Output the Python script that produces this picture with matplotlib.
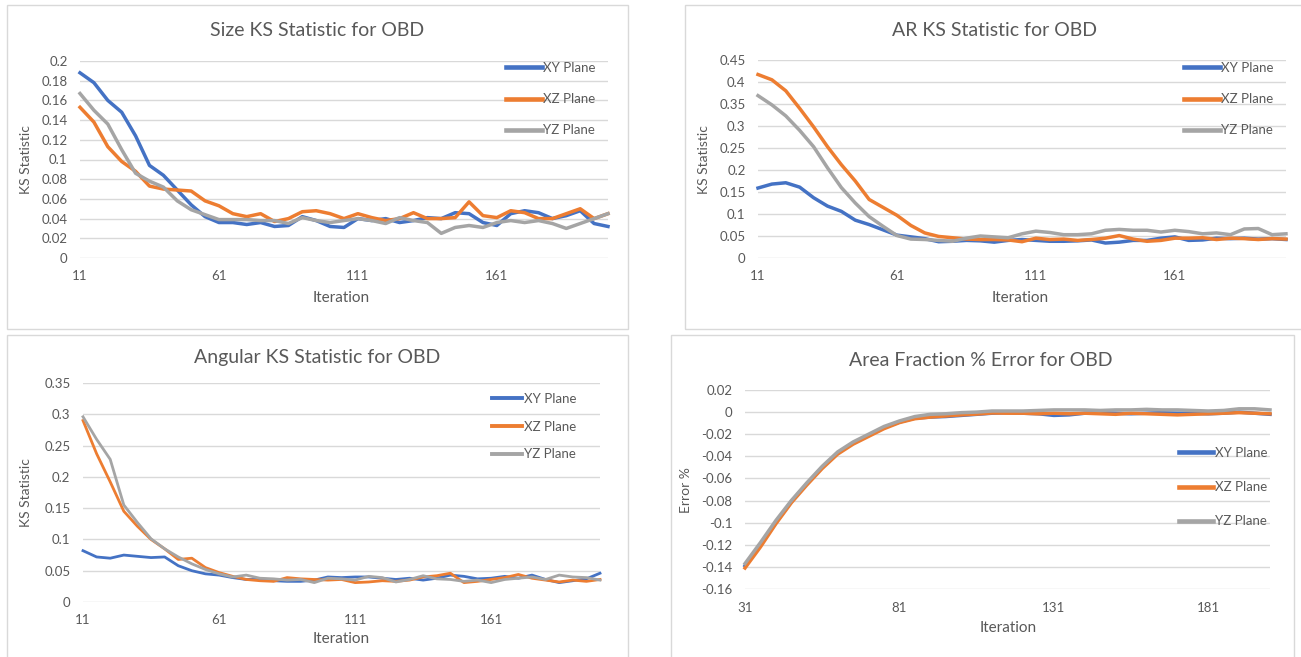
import matplotlib
matplotlib.use("Agg")
import matplotlib.pyplot as plt
from matplotlib.patches import Rectangle
from matplotlib.lines import Line2D

plt.rcParams['font.family'] = ['Lato', 'DejaVu Sans']

W, H = 1301, 657

# ---------------- data ----------------
iter_ks = list(range(11, 202, 5))      # 11 .. 201
iter_area = list(range(31, 202, 5))    # 31 .. 201
series_names = ["XY Plane", "XZ Plane", "YZ Plane"]
colors = ["#4472C4", "#ED7D31", "#A5A5A5"]

size_xy = [0.188, 0.178, 0.160, 0.148, 0.124, 0.094, 0.084, 0.069, 0.054, 0.042,
           0.036, 0.036, 0.034, 0.036, 0.032, 0.033, 0.042, 0.038, 0.032, 0.031,
           0.040, 0.038, 0.040, 0.036, 0.038, 0.041, 0.040, 0.046, 0.045, 0.036,
           0.033, 0.045, 0.048, 0.046, 0.040, 0.043, 0.048, 0.035, 0.032]
size_xz = [0.153, 0.138, 0.113, 0.098, 0.088, 0.073, 0.070, 0.069, 0.068, 0.058,
           0.053, 0.045, 0.042, 0.045, 0.037, 0.040, 0.047, 0.048, 0.045, 0.040,
           0.045, 0.041, 0.038, 0.040, 0.046, 0.040, 0.040, 0.041, 0.057, 0.043,
           0.041, 0.048, 0.046, 0.040, 0.040, 0.045, 0.050, 0.040, 0.045]
size_yz = [0.167, 0.150, 0.136, 0.110, 0.086, 0.078, 0.072, 0.058, 0.049, 0.044,
           0.039, 0.039, 0.039, 0.038, 0.038, 0.035, 0.041, 0.038, 0.036, 0.038,
           0.040, 0.038, 0.035, 0.041, 0.038, 0.036, 0.025, 0.031, 0.033, 0.031,
           0.036, 0.038, 0.036, 0.038, 0.035, 0.030, 0.035, 0.040, 0.045]

ar_xy = [0.159, 0.168, 0.171, 0.161, 0.137, 0.118, 0.106, 0.086, 0.076, 0.064,
         0.052, 0.048, 0.044, 0.037, 0.038, 0.040, 0.039, 0.036, 0.040, 0.042,
         0.040, 0.038, 0.038, 0.039, 0.041, 0.034, 0.036, 0.040, 0.040, 0.045,
         0.048, 0.040, 0.041, 0.045, 0.044, 0.045, 0.043, 0.044, 0.042]
ar_xz = [0.417, 0.405, 0.380, 0.340, 0.298, 0.253, 0.212, 0.175, 0.133, 0.115,
         0.097, 0.074, 0.057, 0.049, 0.046, 0.043, 0.042, 0.042, 0.041, 0.037,
         0.045, 0.042, 0.043, 0.040, 0.042, 0.045, 0.051, 0.043, 0.038, 0.040,
         0.045, 0.045, 0.046, 0.042, 0.045, 0.044, 0.042, 0.044, 0.043]
ar_yz = [0.369, 0.348, 0.323, 0.290, 0.253, 0.205, 0.160, 0.125, 0.094, 0.072,
         0.051, 0.043, 0.042, 0.040, 0.038, 0.045, 0.050, 0.048, 0.046, 0.055,
         0.061, 0.058, 0.053, 0.053, 0.055, 0.063, 0.065, 0.063, 0.063, 0.059,
         0.063, 0.060, 0.055, 0.057, 0.053, 0.066, 0.067, 0.053, 0.055]

ang_xy = [0.082, 0.072, 0.070, 0.075, 0.073, 0.071, 0.072, 0.058, 0.050, 0.045,
          0.043, 0.039, 0.036, 0.036, 0.034, 0.033, 0.033, 0.035, 0.040, 0.039,
          0.040, 0.040, 0.038, 0.036, 0.038, 0.035, 0.038, 0.043, 0.041, 0.037,
          0.038, 0.041, 0.038, 0.043, 0.036, 0.031, 0.034, 0.037, 0.046]
ang_xz = [0.290, 0.237, 0.192, 0.145, 0.121, 0.100, 0.085, 0.068, 0.070, 0.055,
          0.047, 0.041, 0.036, 0.034, 0.033, 0.039, 0.037, 0.036, 0.035, 0.036,
          0.031, 0.032, 0.034, 0.033, 0.035, 0.040, 0.042, 0.046, 0.031, 0.033,
          0.036, 0.039, 0.044, 0.038, 0.035, 0.032, 0.035, 0.033, 0.036]
ang_yz = [0.296, 0.260, 0.228, 0.155, 0.127, 0.101, 0.085, 0.072, 0.061, 0.052,
          0.045, 0.040, 0.043, 0.038, 0.037, 0.035, 0.036, 0.031, 0.038, 0.037,
          0.035, 0.041, 0.039, 0.032, 0.036, 0.042, 0.037, 0.036, 0.033, 0.035,
          0.031, 0.036, 0.038, 0.040, 0.036, 0.043, 0.040, 0.039, 0.035]

area_xy = [-0.139, -0.120, -0.100, -0.081, -0.065, -0.050, -0.037, -0.028, -0.021,
           -0.014, -0.009, -0.0055, -0.0045, -0.004, -0.003, -0.002, -0.001,
           -0.0005, -0.001, -0.0015, -0.003, -0.0025, -0.001, -0.0005, -0.001,
           -0.0015, -0.001, -0.0005, -0.001, -0.001, -0.0015, -0.001, 0.0, -0.001, -0.002]
area_xz = [-0.141, -0.122, -0.101, -0.082, -0.066, -0.051, -0.038, -0.029, -0.022,
           -0.015, -0.0095, -0.006, -0.0045, -0.0035, -0.0025, -0.0018, -0.0008,
           -0.001, -0.001, -0.0015, -0.001, -0.0015, -0.001, -0.0015, -0.002,
           -0.001, -0.0015, -0.002, -0.0025, -0.002, -0.0015, -0.001, -0.0005, -0.001, -0.0015]
area_yz = [-0.137, -0.118, -0.098, -0.080, -0.064, -0.049, -0.036, -0.027, -0.020,
           -0.013, -0.008, -0.004, -0.002, -0.0015, -0.0005, 0.0, 0.001,
           0.001, 0.001, 0.0015, 0.002, 0.002, 0.002, 0.0015, 0.002,
           0.002, 0.0025, 0.002, 0.002, 0.0015, 0.001, 0.0015, 0.003, 0.003, 0.002]

ks_xticks = [11, 61, 111, 161]
area_xticks = [31, 81, 131, 181]
size_yticks = [0, 0.02, 0.04, 0.06, 0.08, 0.1, 0.12, 0.14, 0.16, 0.18, 0.2]
ar_yticks = [0, 0.05, 0.1, 0.15, 0.2, 0.25, 0.3, 0.35, 0.4, 0.45]
ang_yticks = [0, 0.05, 0.1, 0.15, 0.2, 0.25, 0.3, 0.35]
area_yticks = [-0.16, -0.14, -0.12, -0.1, -0.08, -0.06, -0.04, -0.02, 0, 0.02]

# ---------------- drawing ----------------
TXT = "#595959"
GRID = "#d9d9d9"

fig = plt.figure(figsize=(W / 100, H / 100), dpi=100)


def fx(px):
    return px / W


def fy(py):
    return 1 - py / H


# panel frames (pixel boxes)
for (x0, y0, x1, y1) in [(7, 5, 628, 329), (685, 5, 1305, 329),
                         (7, 335, 628, 660), (671, 335, 1294, 660)]:
    fig.add_artist(Rectangle((fx(x0), fy(y1)), fx(x1) - fx(x0), fy(y0) - fy(y1),
                             transform=fig.transFigure, fill=False,
                             edgecolor=GRID, lw=1.0))


def panel(box, x, ys, yticks, xticks, title, ylabel, title_xy, ylabel_xy,
          xlabel_xy, leg_xy, leg_spacing, leg_handle, lw):
    x0, y0, x1, y1 = box
    ax = fig.add_axes([fx(x0), fy(y1), fx(x1) - fx(x0), fy(y0) - fy(y1)])
    for s in ax.spines.values():
        s.set_visible(False)
    ax.set_xlim(x[0], x[-1])
    ax.set_ylim(yticks[0], yticks[-1])
    ax.set_yticks(yticks)
    ax.set_yticklabels(["{:g}".format(round(t, 3)) for t in yticks])
    ax.set_xticks(xticks)
    ax.set_xticklabels([str(t) for t in xticks])
    ax.yaxis.grid(True, color=GRID, lw=1.0)
    ax.set_axisbelow(True)
    ax.tick_params(axis='both', length=0, labelsize=9.5, labelcolor=TXT)
    ax.tick_params(axis='y', pad=9)
    ax.tick_params(axis='x', pad=9)
    ax.patch.set_alpha(0)
    for y, c, n in zip(ys, colors, series_names):
        ax.plot(x, y, color=c, lw=lw, label=n, solid_joinstyle='round',
                clip_on=False)
    fig.text(fx(title_xy[0]), fy(title_xy[1]), title, ha='center', va='center',
             fontsize=14, color=TXT)
    fig.text(fx(ylabel_xy[0]), fy(ylabel_xy[1]), ylabel, ha='center',
             va='center', rotation=90, fontsize=10, color=TXT)
    fig.text(fx(xlabel_xy[0]), fy(xlabel_xy[1]), "Iteration", ha='center',
             va='center', fontsize=11, color=TXT)
    handles = [Line2D([0], [0], color=c, lw=lw + 0.8) for c in colors]
    leg = ax.legend(handles, series_names, loc='upper left',
                    bbox_to_anchor=(fx(leg_xy[0]), fy(leg_xy[1])),
                    bbox_transform=fig.transFigure, frameon=False,
                    fontsize=9.5, handlelength=leg_handle, handletextpad=0.1,
                    labelspacing=leg_spacing, borderpad=0, borderaxespad=0)
    for t in leg.get_texts():
        t.set_color(TXT)
    return ax


panel((80, 61, 608, 258), iter_ks, [size_xy, size_xz, size_yz], size_yticks,
      ks_xticks, "Size KS Statistic for OBD", "KS Statistic",
      (317, 30), (26, 160), (341, 298), (506, 62), 1.45, 2.7, 2.5)

panel((758, 60, 1286, 258), iter_ks, [ar_xy, ar_xz, ar_yz], ar_yticks,
      ks_xticks, "AR KS Statistic for OBD", "KS Statistic",
      (995, 30), (704, 160), (1020, 298), (1184, 62), 1.45, 2.7, 2.5)

panel((83, 383, 600, 602), iter_ks, [ang_xy, ang_xz, ang_yz], ang_yticks,
      ks_xticks, "Angular KS Statistic for OBD", "KS Statistic",
      (317, 357), (26, 493), (341, 639), (492, 393), 1.18, 2.3, 2.0)

panel((745, 390, 1270, 589), iter_area, [area_xy, area_xz, area_yz],
      area_yticks, area_xticks, "Area Fraction % Error for OBD", "Error %",
      (981, 360), (686, 490), (1008, 628), (1179, 447), 1.68, 2.6, 2.5)

fig.savefig("out.png", dpi=100, facecolor="white")
